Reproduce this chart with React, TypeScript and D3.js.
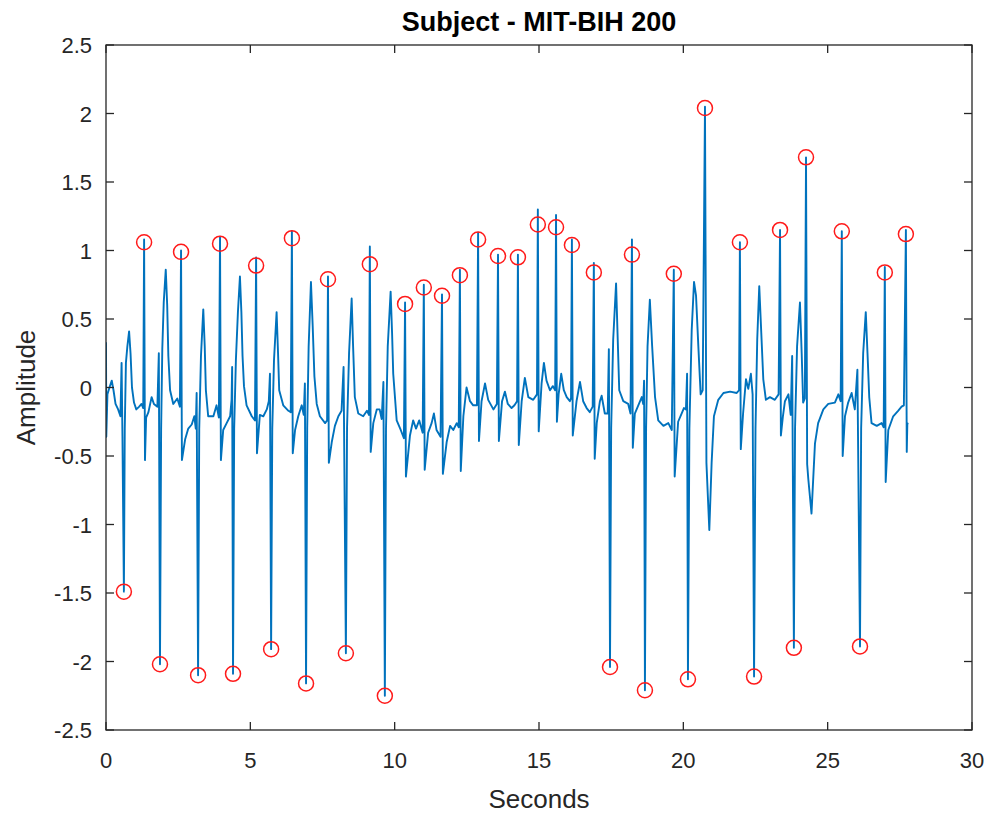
import React from "react";
import * as d3 from "d3";

// ---- data ----
const xTicks = [0, 5, 10, 15, 20, 25, 30];
const yTicks = [-2.5, -2, -1.5, -1, -0.5, 0, 0.5, 1, 1.5, 2, 2.5];

// traced ECG vertices [seconds, amplitude]
const ecgTrace: [number, number][] = [
  [0.0, 0.33], [0.01, -0.36], [0.05, -0.05], [0.12, 0.0], [0.2, 0.05], [0.26, -0.02], [0.33, -0.12],
  [0.42, -0.16], [0.5, -0.21], [0.54, 0.18], [0.57, -0.36], [0.62, -1.49], [0.65, -0.3], [0.69, 0.18],
  [0.74, 0.3], [0.8, 0.41], [0.85, 0.25], [0.9, 0.0], [0.97, -0.11], [1.05, -0.16], [1.15, -0.14],
  [1.23, -0.12], [1.29, -0.15], [1.32, 1.08], [1.35, -0.53], [1.39, -0.22], [1.47, -0.18], [1.58, -0.07],
  [1.66, -0.12], [1.78, -0.14], [1.83, 0.25], [1.87, -2.02], [1.91, -0.3], [1.95, 0.28], [2.0, 0.62],
  [2.07, 0.86], [2.12, 0.6], [2.16, 0.23], [2.22, -0.02], [2.33, -0.12], [2.47, -0.08], [2.56, -0.14],
  [2.6, 1.0], [2.63, -0.53], [2.74, -0.38], [2.85, -0.3], [2.97, -0.27], [3.06, -0.21], [3.11, -0.3],
  [3.14, -0.04], [3.19, -2.1], [3.23, -0.3], [3.29, 0.23], [3.37, 0.57], [3.42, 0.3], [3.46, -0.02],
  [3.54, -0.21], [3.72, -0.21], [3.83, -0.13], [3.91, -0.22], [3.95, 1.1], [3.98, -0.53], [4.06, -0.31],
  [4.18, -0.26], [4.3, -0.21], [4.35, -0.09], [4.37, 0.15], [4.4, -2.09], [4.44, -0.3], [4.5, 0.2],
  [4.57, 0.55], [4.64, 0.81], [4.69, 0.55], [4.73, 0.23], [4.78, 0.01], [4.87, -0.13], [5.05, -0.21],
  [5.16, -0.24], [5.2, 0.95], [5.23, -0.48], [5.33, -0.2], [5.45, -0.21], [5.57, -0.16], [5.64, -0.1],
  [5.68, 0.1], [5.72, -1.91], [5.76, -0.3], [5.82, 0.2], [5.91, 0.55], [5.96, 0.25], [6.0, -0.02],
  [6.14, -0.13], [6.32, -0.17], [6.4, -0.18], [6.44, 1.14], [6.47, -0.48], [6.55, -0.31], [6.66, -0.21],
  [6.78, -0.13], [6.85, -0.2], [6.89, 0.03], [6.93, -2.16], [6.97, -0.3], [7.02, 0.3], [7.1, 0.77],
  [7.16, 0.45], [7.22, 0.08], [7.3, -0.12], [7.41, -0.21], [7.59, -0.26], [7.66, -0.24], [7.69, 0.81],
  [7.72, -0.55], [7.82, -0.4], [7.93, -0.28], [8.05, -0.21], [8.16, -0.17], [8.23, 0.15], [8.31, -1.94],
  [8.35, -0.3], [8.42, 0.25], [8.51, 0.65], [8.56, 0.3], [8.62, -0.07], [8.74, -0.19], [8.91, -0.21],
  [9.04, -0.17], [9.11, -0.2], [9.14, 1.03], [9.17, -0.47], [9.26, -0.26], [9.38, -0.16], [9.48, -0.16],
  [9.55, -0.23], [9.61, 0.04], [9.66, -2.25], [9.7, -0.3], [9.76, 0.3], [9.86, 0.7], [9.91, 0.4],
  [9.95, 0.1], [10.07, -0.24], [10.21, -0.31], [10.32, -0.37], [10.36, 0.62], [10.39, -0.65],
  [10.53, -0.35], [10.64, -0.24], [10.74, -0.3], [10.85, -0.24], [10.97, -0.33], [11.01, 0.75],
  [11.04, -0.6], [11.16, -0.33], [11.28, -0.26], [11.36, -0.19], [11.45, -0.31], [11.59, -0.36],
  [11.64, 0.68], [11.67, -0.63], [11.8, -0.4], [11.92, -0.28], [12.03, -0.31], [12.15, -0.26],
  [12.22, -0.29], [12.26, 0.86], [12.29, -0.61], [12.38, -0.21], [12.49, 0.0], [12.61, -0.1],
  [12.72, -0.13], [12.85, -0.13], [12.89, 1.13], [12.92, -0.39], [13.01, -0.1], [13.13, 0.03],
  [13.24, -0.09], [13.42, -0.16], [13.54, -0.12], [13.58, 0.97], [13.61, -0.39], [13.72, -0.1],
  [13.82, -0.03], [13.92, -0.12], [14.05, -0.15], [14.15, -0.13], [14.24, -0.1], [14.27, 0.97],
  [14.3, -0.42], [14.4, -0.1], [14.51, 0.07], [14.63, -0.07], [14.8, -0.09], [14.93, -0.05],
  [14.96, 1.3], [14.99, -0.32], [15.09, 0.03], [15.17, 0.18], [15.26, 0.05], [15.38, -0.02],
  [15.48, 0.01], [15.56, -0.02], [15.59, 1.26], [15.62, -0.25], [15.68, -0.05], [15.77, 0.1],
  [15.86, -0.02], [15.96, -0.07], [16.07, -0.1], [16.11, -0.08], [16.14, 1.08], [16.17, -0.35],
  [16.3, -0.1], [16.42, 0.04], [16.53, -0.1], [16.65, -0.15], [16.76, -0.18], [16.86, -0.14],
  [16.9, 0.91], [16.93, -0.52], [17.0, -0.26], [17.11, -0.1], [17.17, -0.06], [17.28, -0.19],
  [17.38, -0.19], [17.42, 0.28], [17.46, -2.04], [17.5, -0.3], [17.57, 0.35], [17.67, 0.76],
  [17.72, 0.4], [17.78, -0.02], [17.92, -0.1], [18.09, -0.12], [18.17, -0.19], [18.22, 1.08],
  [18.25, -0.44], [18.32, -0.19], [18.44, -0.13], [18.56, -0.07], [18.61, -0.12], [18.64, 0.05],
  [18.67, -2.21], [18.71, -0.3], [18.76, 0.3], [18.84, 0.64], [18.92, 0.3], [19.02, -0.07],
  [19.13, -0.24], [19.31, -0.28], [19.48, -0.26], [19.6, -0.31], [19.67, 0.86], [19.7, -0.65],
  [19.82, -0.25], [19.94, -0.19], [20.02, -0.15], [20.09, -0.16], [20.13, 0.1], [20.16, -2.13],
  [20.21, -0.3], [20.29, 0.42], [20.37, 0.77], [20.44, 0.67], [20.52, 0.3], [20.6, -0.05],
  [20.67, -0.02], [20.75, 2.05], [20.8, -0.55], [20.9, -1.04], [20.98, -0.55], [21.06, -0.21],
  [21.21, -0.09], [21.39, -0.04], [21.62, -0.03], [21.85, -0.04], [21.93, -0.02], [21.96, 1.06],
  [21.99, -0.45], [22.07, -0.19], [22.17, 0.06], [22.25, -0.01], [22.34, 0.1], [22.4, -0.05],
  [22.45, -2.11], [22.5, -0.3], [22.56, 0.35], [22.63, 0.74], [22.7, 0.4], [22.77, 0.06],
  [22.86, -0.09], [23.0, -0.07], [23.17, -0.09], [23.3, -0.05], [23.35, 1.15], [23.38, -0.35],
  [23.45, -0.21], [23.52, -0.1], [23.64, -0.05], [23.72, -0.2], [23.77, 0.23], [23.83, -1.9],
  [23.87, -0.3], [23.94, 0.3], [24.04, 0.62], [24.1, 0.25], [24.15, -0.11], [24.21, -0.08],
  [24.25, 1.68], [24.29, -0.56], [24.33, -0.67], [24.44, -0.92], [24.56, -0.41], [24.67, -0.26],
  [24.85, -0.16], [25.02, -0.12], [25.25, -0.11], [25.37, -0.05], [25.45, -0.1], [25.49, 1.14],
  [25.52, -0.5], [25.6, -0.21], [25.71, -0.11], [25.83, -0.04], [25.94, -0.16], [26.03, 0.13],
  [26.12, -1.89], [26.16, -0.3], [26.23, 0.25], [26.32, 0.55], [26.38, 0.25], [26.44, -0.07],
  [26.52, -0.26], [26.7, -0.28], [26.87, -0.26], [26.94, -0.29], [26.98, 0.88], [27.01, -0.69],
  [27.1, -0.31], [27.27, -0.21], [27.44, -0.17], [27.56, -0.14], [27.64, -0.13], [27.71, 1.15],
  [27.74, -0.47], [27.76, -0.26], [27.78, -0.27],
];

// detected peaks (red circles)
const peakTimes = [
  0.62, 1.32, 1.87, 2.6, 3.19, 3.95, 4.4, 5.2, 5.72, 6.44, 6.93, 7.69, 8.31, 9.14, 9.66,
  10.36, 11.01, 11.64, 12.26, 12.89, 13.58, 14.27, 14.96, 15.59, 16.14, 16.9, 17.46, 18.22,
  18.67, 19.67, 20.16, 20.75, 21.96, 22.45, 23.35, 23.83, 24.25, 25.49, 26.12, 26.98, 27.71,
];
const peakAmps = [
  -1.49, 1.06, -2.02, 0.99, -2.1, 1.05, -2.09, 0.89, -1.91, 1.09, -2.16, 0.79, -1.94, 0.9, -2.25,
  0.61, 0.73, 0.67, 0.82, 1.08, 0.96, 0.95, 1.19, 1.17, 1.04, 0.84, -2.04, 0.97,
  -2.21, 0.83, -2.13, 2.04, 1.06, -2.11, 1.15, -1.9, 1.68, 1.14, -1.89, 0.84, 1.12,
];

const titleText = "Subject - MIT-BIH 200";
const xLabel = "Seconds";
const yLabel = "Amplitude";

// ---- layout ----
const W = 991;
const H = 815;
const L = 106, R = 972, T = 45, B = 730;
const AX = "#262626";
const FONT = "'Liberation Sans', Arial, Helvetica, sans-serif";
const TICK = 8;

export default function App() {
  const x = d3.scaleLinear().domain([0, 30]).range([L, R]);
  const y = d3.scaleLinear().domain([-2.5, 2.5]).range([B, T]);
  const line = d3
    .line<[number, number]>()
    .x((d) => x(d[0]))
    .y((d) => y(d[1]));
  const fmt = (v: number) => String(v);

  return (
    <div style={{ position: "fixed", left: 0, top: 0, width: W, height: H, background: "#fff" }}>
      <svg width={W} height={H} style={{ display: "block" }}>
        <rect x={0} y={0} width={W} height={H} fill="#fff" />
        <defs>
          <clipPath id="plotClip">
            <rect x={L} y={T} width={R - L} height={B - T} />
          </clipPath>
        </defs>
        <path
          d={line(ecgTrace) || ""}
          fill="none"
          stroke="#0072BD"
          strokeWidth={1.9}
          strokeLinejoin="round"
          clipPath="url(#plotClip)"
        />
        {peakTimes.map((t, i) => (
          <circle
            key={i}
            cx={x(t)}
            cy={y(peakAmps[i])}
            r={7.5}
            fill="none"
            stroke="#ff1a1a"
            strokeWidth={1.5}
          />
        ))}
        {/* box */}
        <rect x={L} y={T} width={R - L} height={B - T} fill="none" stroke={AX} strokeWidth={1.3} />
        {xTicks.map((t) => (
          <g key={"x" + t}>
            <line x1={x(t)} x2={x(t)} y1={B} y2={B - TICK} stroke={AX} strokeWidth={1.3} />
            <line x1={x(t)} x2={x(t)} y1={T} y2={T + TICK} stroke={AX} strokeWidth={1.3} />
            <text x={x(t)} y={768} textAnchor="middle" fontFamily={FONT} fontSize={22} fill={AX}>
              {fmt(t)}
            </text>
          </g>
        ))}
        {yTicks.map((v) => (
          <g key={"y" + v}>
            <line x1={L} x2={L + TICK} y1={y(v)} y2={y(v)} stroke={AX} strokeWidth={1.3} />
            <line x1={R} x2={R - TICK} y1={y(v)} y2={y(v)} stroke={AX} strokeWidth={1.3} />
            <text x={L - 14} y={y(v) + 8} textAnchor="end" fontFamily={FONT} fontSize={22} fill={AX}>
              {fmt(v)}
            </text>
          </g>
        ))}
        <text
          x={(L + R) / 2}
          y={31}
          textAnchor="middle"
          fontFamily={FONT}
          fontSize={27}
          fontWeight="bold"
          fill="#000"
        >
          {titleText}
        </text>
        <text x={(L + R) / 2} y={808} textAnchor="middle" fontFamily={FONT} fontSize={26} fill={AX}>
          {xLabel}
        </text>
        <text
          transform={`translate(35, ${(T + B) / 2}) rotate(-90)`}
          textAnchor="middle"
          fontFamily={FONT}
          fontSize={26}
          fill={AX}
        >
          {yLabel}
        </text>
      </svg>
    </div>
  );
}
